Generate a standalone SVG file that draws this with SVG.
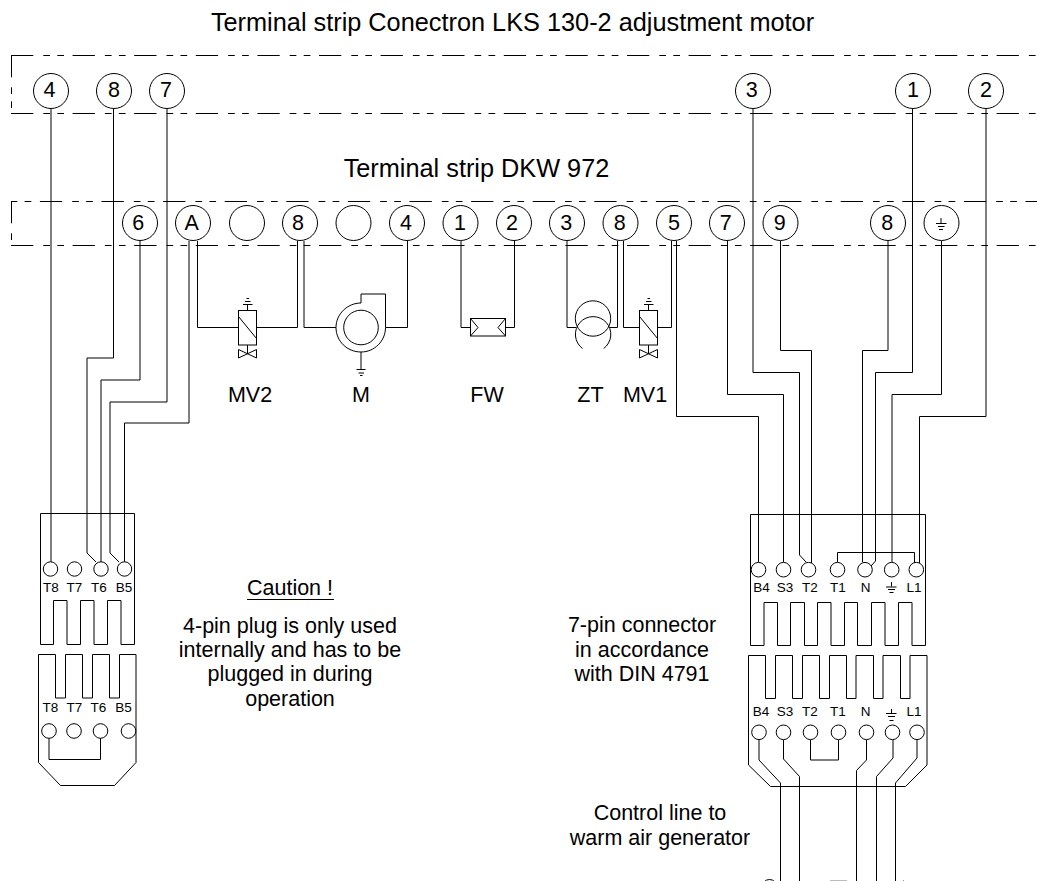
<svg xmlns="http://www.w3.org/2000/svg" width="1037" height="881" viewBox="0 0 1037 881">
<style>
text{font-family:"Liberation Sans",Arial,sans-serif;fill:#000;text-anchor:middle}
.h{font-size:25.300px}
.t{font-size:21.500px}
.n{font-size:21.500px}
.s{font-size:13.500px}
.l{fill:none;stroke:#000;stroke-width:1}
.c{fill:#fff;stroke:#000;stroke-width:1}
.d{fill:none;stroke:#000;stroke-width:1;stroke-dasharray:22.3 10 6.7 7.3 6.7 8.6}
</style>
<rect width="1037" height="881" fill="#fff"/>
<text class="h" x="512.500" y="31">Terminal strip Conectron LKS 130-2 adjustment motor</text>
<text class="h" x="476.500" y="177">Terminal strip DKW 972</text>
<g id="strips">
<path class="d" d="M11 55.500H1037"/>
<path class="d" d="M11 113.500H1037"/>
<path class="d" d="M11.500 55V110"/>
<path class="d" d="M11 201.500H1037" stroke-dashoffset="32.700"/>
<path class="d" d="M11 245.500H1037"/>
<path class="d" d="M11.500 201V245"/>
</g>
<g id="connectors">
<path class="l" d="M51 109V562"/>
<path class="l" d="M113.500 109V358H87V553L96 562"/>
<path class="l" d="M140 241V380H101V562"/>
<path class="l" d="M167 109V402H110V553L119 562"/>
<path class="l" d="M189 241V423H124.500V562"/>
<path class="l" d="M197.500 241V327.500H238.500"/>
<path class="l" d="M256.500 327.500H297.500V241"/>
<path class="l" d="M304 241V327.500H336"/>
<path class="l" d="M385.500 327.500H407.500V241"/>
<path class="l" d="M461 241V327.500H470.500"/>
<path class="l" d="M505.500 327.500H514.500V241"/>
<path class="l" d="M567 241V327.500H576"/>
<path class="l" d="M610 327.500H617.500V241"/>
<path class="l" d="M623.500 241V327.500H639.500"/>
<path class="l" d="M657.500 327.500H671.500V241"/>
<path class="l" d="M676.500 241V416.500H758.500V562"/>
<path class="l" d="M727.500 241V394.500H783.500V562"/>
<path class="l" d="M753 109V372.500H799.500V555L806 562"/>
<path class="l" d="M780.500 241V350.500H811.500V563"/>
<path class="l" d="M888 241V350.500H862.500V562"/>
<path class="l" d="M912.500 109V372.500H875.500V561L871 566"/>
<path class="l" d="M941.500 241V394.500H892V562"/>
<path class="l" d="M986 109V416.500H919.500V563"/>
<path class="l" d="M837.500 562V552.500H914.500V563"/>
<path class="l" d="M49 738V759.500H100.500V738"/>
<path class="l" d="M759 740V760L780.500 783V881"/>
<path class="l" d="M783.500 740V759L799.500 776.500V881"/>
<path class="l" d="M810.500 740V760H838.500V740"/>
<path class="l" d="M866.500 740V760L856.500 770.500V881"/>
<path class="l" d="M893 740V758L876.500 776.500V881"/>
<path class="l" d="M917 740V758L895.500 783V881"/>
</g>
<g id="terminals-top">
<g id="t1-4"><circle class="c" cx="51" cy="91" r="17.500"/><text class="n" x="49.500" y="97">4</text></g>
<g id="t1-8"><circle class="c" cx="114" cy="91" r="17.500"/><text class="n" x="114" y="97">8</text></g>
<g id="t1-7"><circle class="c" cx="167" cy="91" r="17.500"/><text class="n" x="166" y="97">7</text></g>
<g id="t1-3"><circle class="c" cx="753" cy="91" r="17.500"/><text class="n" x="751.700" y="97">3</text></g>
<g id="t1-1"><circle class="c" cx="913" cy="91" r="17.500"/><text class="n" x="913" y="97">1</text></g>
<g id="t1-2"><circle class="c" cx="986" cy="91" r="17.500"/><text class="n" x="986" y="97">2</text></g>
</g>
<g id="terminals-dkw">
<g id="t2-6"><circle class="c" cx="140" cy="223" r="17.500"/><text class="n" x="138.300" y="230">6</text></g>
<g id="t2-a"><circle class="c" cx="193" cy="223" r="17.500"/><text class="n" x="191.700" y="230">A</text></g>
<g id="t2-b1"><circle class="c" cx="247" cy="223" r="17.500"/></g>
<g id="t2-8a"><circle class="c" cx="300" cy="223" r="17.500"/><text class="n" x="298" y="230">8</text></g>
<g id="t2-b2"><circle class="c" cx="353.500" cy="223" r="17.500"/></g>
<g id="t2-4"><circle class="c" cx="407" cy="223" r="17.500"/><text class="n" x="406" y="230">4</text></g>
<g id="t2-1"><circle class="c" cx="460.500" cy="223" r="17.500"/><text class="n" x="460" y="230">1</text></g>
<g id="t2-2"><circle class="c" cx="514" cy="223" r="17.500"/><text class="n" x="512" y="230">2</text></g>
<g id="t2-3"><circle class="c" cx="567" cy="223" r="17.500"/><text class="n" x="566.300" y="230">3</text></g>
<g id="t2-8b"><circle class="c" cx="620.500" cy="223" r="17.500"/><text class="n" x="619.700" y="230">8</text></g>
<g id="t2-5"><circle class="c" cx="674" cy="223" r="17.500"/><text class="n" x="674" y="230">5</text></g>
<g id="t2-7"><circle class="c" cx="727" cy="223" r="17.500"/><text class="n" x="725.700" y="230">7</text></g>
<g id="t2-9"><circle class="c" cx="780.500" cy="223" r="17.500"/><text class="n" x="779.700" y="230">9</text></g>
<g id="t2-8c"><circle class="c" cx="888" cy="223" r="17.500"/><text class="n" x="887.300" y="230">8</text></g>
<g id="t2-gnd"><circle class="c" cx="941.500" cy="223" r="17.500"/><path class="l" d="M941 218V223M936 223.500H946.500M938 226.500H944.500M939 229.500H943"/></g>
</g>
<g id="mv2">
<rect class="c" x="238.500" y="310.500" width="18" height="34.500"/>
<path class="l" d="M238.500 316.500L256.500 338.500M247.500 310V304M243 304.500H252.500M245 301.500H250.500M246.500 298.500H249M247.500 345V354"/>
<path class="l" d="M238.500 349.500L256.500 358V349.500L238.500 358Z"/>
<text class="t" x="250" y="401.500">MV2</text>
</g>
<g id="m">
<path class="c" d="M361 303C347.500 303 336 314 336 327.500C336 341 347 352 361 352C374.500 352 385.500 341 385.500 327.500V294H361Z"/>
<circle class="c" cx="361" cy="327.500" r="17.300"/>
<path class="l" d="M361 352V369.500M356.500 369.500H365.500M358.500 373H364M360 375.500H362.500"/>
<text class="t" x="361" y="401.500">M</text>
</g>
<g id="fw">
<rect class="c" x="470.500" y="318.500" width="35" height="17.500"/>
<path class="l" d="M470.500 318.500L478 327.500L470.500 336M505.500 318.500L498 327.500L505.500 336"/>
<text class="t" x="487" y="401.500">FW</text>
</g>
<g id="zt">
<circle class="l" cx="593" cy="318.500" r="17.700"/>
<path class="l" d="M582.500 348.500A17.700 17.700 0 1 1 603.700 348.500"/>
<text class="t" x="590.500" y="401.500">ZT</text>
</g>
<g id="mv1">
<rect class="c" x="639.500" y="310.500" width="18" height="34.500"/>
<path class="l" d="M639.500 316.500L657.500 338.500M648.500 310V304M644 304.500H653.500M646 301.500H651.500M647.500 298.500H650M648.500 345V354"/>
<path class="l" d="M639.500 349.500L657.500 358V349.500L639.500 358Z"/>
<text class="t" x="645" y="401.500">MV1</text>
</g>
<g id="plug-4-upper">
<path class="l" d="M40.500 513.500H134.500V644.500H121V600.500H107.500V644.500H94V600.500H80.500V644.500H67V600.500H53.500V644.500H40.500Z"/>
<circle class="c" cx="50.500" cy="569" r="7.200"/><circle class="c" cx="74.500" cy="569" r="7.200"/><circle class="c" cx="101" cy="569" r="7.200"/><circle class="c" cx="124.500" cy="569" r="7.200"/>
<text class="s" x="51" y="592">T8</text><text class="s" x="74.500" y="592">T7</text><text class="s" x="99" y="592">T6</text><text class="s" x="124" y="592">B5</text>
</g>
<g id="plug-4-lower">
<path class="l" d="M38.500 654.500H55.500V698H65.500V654.500H82.500V698H92.500V654.500H109.500V698H119.500V654.500H136V762.500L114.500 785.500H60.500L38.500 762.500Z"/>
<circle class="c" cx="49" cy="731" r="7.300"/><circle class="c" cx="74" cy="731" r="7.300"/><circle class="c" cx="100.500" cy="731" r="7.300"/><circle class="c" cx="128.500" cy="731" r="7.300"/>
<text class="s" x="50.500" y="712">T8</text><text class="s" x="74.500" y="712">T7</text><text class="s" x="98.500" y="712">T6</text><text class="s" x="123.500" y="712">B5</text>
</g>
<g id="plug-7-upper">
<path class="l" d="M750.500 514.500H925.500V645.500H912V602.500H898.500V645.500H885V602.500H871.500V645.500H857.500V602.500H844.500V645.500H831V602.500H817.500V645.500H804.500V602.500H790.500V645.500H777.500V602.500H764V645.500H750.500Z"/>
<circle class="c" cx="758.500" cy="569.700" r="7.300"/><circle class="c" cx="783.500" cy="569.700" r="7.300"/><circle class="c" cx="808.500" cy="569.700" r="7.300"/><circle class="c" cx="837.500" cy="569.700" r="7.300"/><circle class="c" cx="865" cy="569.700" r="7.300"/><circle class="c" cx="891.700" cy="569.700" r="7.300"/><circle class="c" cx="916.300" cy="569.700" r="7.300"/>
<text class="s" x="761.500" y="592">B4</text><text class="s" x="785" y="592">S3</text><text class="s" x="810" y="592">T2</text><text class="s" x="838" y="592">T1</text><text class="s" x="865.500" y="592">N</text><text class="s" x="914" y="592">L1</text>
<path class="l" d="M891.500 582V586.500M886 587H896.500M888 589.500H895M889.500 592.500H893.500"/>
</g>
<g id="plug-7-lower">
<path class="l" d="M748.500 655.500H765.500V698.500H775.500V655.500H792.500V698.500H802.500V655.500H819.500V698.500H829.500V655.500H846.500V698.500H856V655.500H873.500V698.500H883V655.500H900.500V698.500H910V655.500H927V765L905.500 786.500H770.500L748.500 765Z"/>
<circle class="c" cx="759" cy="732.300" r="7.300"/><circle class="c" cx="783.500" cy="732.300" r="7.300"/><circle class="c" cx="810.500" cy="732.300" r="7.300"/><circle class="c" cx="838.500" cy="732.300" r="7.300"/><circle class="c" cx="866.500" cy="732.300" r="7.300"/><circle class="c" cx="892.500" cy="732.300" r="7.300"/><circle class="c" cx="917" cy="732.300" r="7.300"/>
<text class="s" x="761" y="715.500">B4</text><text class="s" x="785" y="715.500">S3</text><text class="s" x="810" y="715.500">T2</text><text class="s" x="838" y="715.500">T1</text><text class="s" x="865.500" y="715.500">N</text><text class="s" x="914" y="715.500">L1</text>
<path class="l" d="M891.500 709V713.500M886 713.500H896.500M888 716.500H895M889.500 720.500H893.500"/>
</g>
<g id="caution">
<text class="t" x="290" y="595">Caution !</text>
<path class="l" d="M247 599.500H334"/>
<text class="t" x="290" y="632.500">4-pin plug is only used</text>
<text class="t" x="290" y="656.500">internally and has to be</text>
<text class="t" x="290" y="681">plugged in during</text>
<text class="t" x="290" y="706">operation</text>
</g>
<g id="note-7pin">
<text class="t" x="642" y="632">7-pin connector</text>
<text class="t" x="642" y="657">in accordance</text>
<text class="t" x="642" y="681">with DIN 4791</text>
</g>
<g id="note-control">
<text class="t" x="660" y="820">Control line to</text>
<text class="t" x="660" y="845">warm air generator</text>
</g>
<g id="clipped-bottom">
<circle class="l" cx="769.500" cy="887" r="7.500"/>
<path d="M830 880.500H847" stroke="#bbb" fill="none"/>
<path d="M903 880.500H904" stroke="#999" fill="none"/>
</g>
</svg>
